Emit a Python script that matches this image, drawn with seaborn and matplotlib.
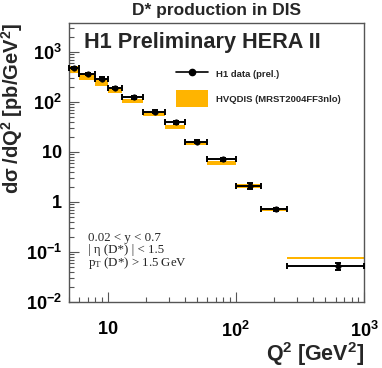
import numpy as np
import matplotlib
matplotlib.use("Agg")
import matplotlib.pyplot as plt
import seaborn as sns
from matplotlib.lines import Line2D
from matplotlib.patches import Patch
from matplotlib.ticker import FixedLocator, FixedFormatter

# Q2 bin edges [GeV^2]
q2_edges = [5, 6, 8, 10, 13, 19, 28, 40, 60, 100, 158, 251, 1000]

# H1 data (prel.)
data_xs = [484, 362, 297, 193, 124, 64.7, 39.5, 16.0, 7.1, 2.09, 0.705, 0.052]
data_err = [25, 18, 15, 10, 6, 3.5, 2.3, 1.0, 0.5, 0.3, 0.06, 0.009]

# HVQDIS band (lower / upper)
theo_lo = [385, 275, 208, 149, 94, 53, 28.3, 13.9, 5.43, 1.9, 0.66, 0.0705]
theo_hi = [530, 374, 284, 187, 118, 61, 34.4, 15.7, 6.63, 2.26, 0.758, 0.0775]

y_ticks = [1e-2, 1e-1, 1, 10, 1e2, 1e3]
y_ticklabels = [r"$\mathbf{10^{-2}}$", r"$\mathbf{10^{-1}}$", r"$\mathbf{1}$",
                r"$\mathbf{10}$", r"$\mathbf{10^{2}}$", r"$\mathbf{10^{3}}$"]
x_ticks = [10, 1e2, 1e3]
x_ticklabels = [r"$\mathbf{10}$", r"$\mathbf{10^{2}}$", r"$\mathbf{10^{3}}$"]

orange = "#ffb400"

sns.set_style("ticks")
plt.rcParams["font.family"] = ["Liberation Sans", "DejaVu Sans"]
plt.rcParams["mathtext.fontset"] = "custom"
plt.rcParams["mathtext.rm"] = "Liberation Serif"
plt.rcParams["mathtext.bf"] = "Liberation Sans:bold"
plt.rcParams["mathtext.it"] = "Liberation Serif:italic"

edges = np.array(q2_edges, dtype=float)
lo_edge = edges[:-1]
hi_edge = edges[1:]
xc = (lo_edge + hi_edge) / 2

fig = plt.figure(figsize=(3.82, 3.68), dpi=100)
ax = fig.add_axes([69 / 382, 1 - 301.7 / 368, 295 / 382, 279 / 368])

# theory band
ax.bar(lo_edge, np.array(theo_hi) - np.array(theo_lo), width=hi_edge - lo_edge,
       bottom=theo_lo, align="edge", color=orange, linewidth=0, zorder=1)

# data
ax.errorbar(xc, data_xs, xerr=[xc - lo_edge, hi_edge - xc], yerr=data_err,
            fmt="none", ecolor="black", elinewidth=1.4, capsize=2.5,
            capthick=1.4, zorder=3, clip_on=False)
sns.scatterplot(x=xc, y=data_xs, ax=ax, color="black", s=16,
                edgecolor="black", zorder=4)

ax.set_xscale("log")
ax.set_yscale("log")
ax.set_xlim(5, 1000)
ax.set_ylim(1e-2, 3900)

ax.yaxis.set_major_locator(FixedLocator(y_ticks))
ax.yaxis.set_major_formatter(FixedFormatter(y_ticklabels))
ax.xaxis.set_major_locator(FixedLocator(x_ticks))
ax.xaxis.set_major_formatter(FixedFormatter(x_ticklabels))

ax.tick_params(which="both", direction="in", top=False, right=False,
               colors="#555555", labelcolor="black")
ax.tick_params(which="major", length=7, width=0.8)
ax.tick_params(which="minor", length=3.5, width=0.8)
ax.tick_params(axis="x", which="major", labelsize=13, pad=14)
ax.tick_params(axis="y", which="major", labelsize=13, pad=5)
for s in ax.spines.values():
    s.set_color("#555555")
    s.set_linewidth(1.0)

ax.set_ylabel(r"$\mathbf{d\sigma\ /dQ^{2}\ [pb/GeV^{2}]}$", fontsize=14.5)
ax.yaxis.label.set(ha="center", va="top", rotation_mode="default")
ax.yaxis.set_label_coords(-0.193, 1.0)
ax.set_xlabel(r"$\mathbf{Q^{2}\ [GeV^{2}]}$", fontsize=15.5)
ax.xaxis.label.set(ha="right", va="top")
ax.xaxis.set_label_coords(1.0, -0.136)

ax.set_title("D* production in DIS", fontsize=12.5, fontweight="bold", pad=5.5)

ax.text(0.05, 0.965, "H1 Preliminary HERA II", transform=ax.transAxes,
        fontsize=15.6, fontweight="bold", va="top", ha="left")

handles = [Line2D([0], [0], color="black", lw=1.2, marker="o", markersize=4.5),
           Patch(facecolor=orange, edgecolor="none")]
ax.legend(handles, ["H1 data (prel.)", "HVQDIS (MRST2004FF3nlo)"],
          loc="upper left", bbox_to_anchor=(0.335, 0.876), frameon=False,
          prop={"size": 6.8, "weight": "bold"}, handlelength=3.4,
          handleheight=2.4, labelspacing=0.78, handletextpad=0.8)

cut_text = ["0.02 < y < 0.7", "| η (D*) | < 1.5", r"$\mathrm{p_{T}}$ (D*) > 1.5 GeV"]
for i, t in enumerate(cut_text):
    ax.text(0.065, 0.23 - i * 0.045, t, transform=ax.transAxes,
            fontsize=9.3, family="Liberation Serif", va="center", ha="left")

fig.savefig("out.png", dpi=100)
